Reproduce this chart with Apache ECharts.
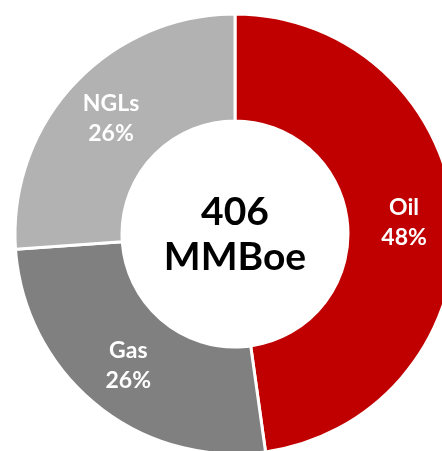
<!DOCTYPE html>
<html>
<head>
	<meta charset="UTF-8">
	<title>Reserves mix</title>
	<script src="https://cdn.jsdelivr.net/npm/echarts@6/dist/echarts.min.js"></script>
	<style>
		html, body { margin: 0; padding: 0; background: #fff; }
		#main { width: 442px; height: 451px; }
	</style>
</head>
<body>
<div id="main"></div>
<script type="text/javascript">
	// reserves split, MMBoe
	var categories = ['Oil', 'Gas', 'NGLs'];
	var values = [194, 106, 106];
	var colors = ['#C00000', '#808080', '#B2B2B2'];
	var centerLines = ['406', 'MMBoe'];

	var myChart = echarts.init(document.getElementById('main'));

	var data = categories.map(function (name, i) {
		return { name: name, value: values[i], itemStyle: { color: colors[i] } };
	});

	var option = {
		animation: false,
		graphic: [{
			type: 'text',
			x: 235,
			y: 235,
			style: {
				text: centerLines.join('\n'),
				textAlign: 'center',
				textVerticalAlign: 'middle',
				fill: '#000',
				fontFamily: 'Lato',
				fontWeight: 'bold',
				fontSize: 39,
				lineHeight: 45
			}
		}],
		series: [{
			type: 'pie',
			center: [235, 234],
			radius: [113, 220],
			startAngle: 90,
			clockwise: true,
			avoidLabelOverlap: false,
			itemStyle: {
				borderColor: '#fff',
				borderWidth: 3
			},
			label: {
				show: true,
				position: 'inside',
				color: '#fff',
				fontFamily: 'Lato',
				fontWeight: 'bold',
				fontSize: 23,
				lineHeight: 30,
				formatter: function (p) {
					return p.name + '\n' + Math.round(p.percent) + '%';
				}
			},
			labelLine: { show: false },
			data: data
		}]
	};
	myChart.setOption(option, true);
</script>
</body>
</html>
